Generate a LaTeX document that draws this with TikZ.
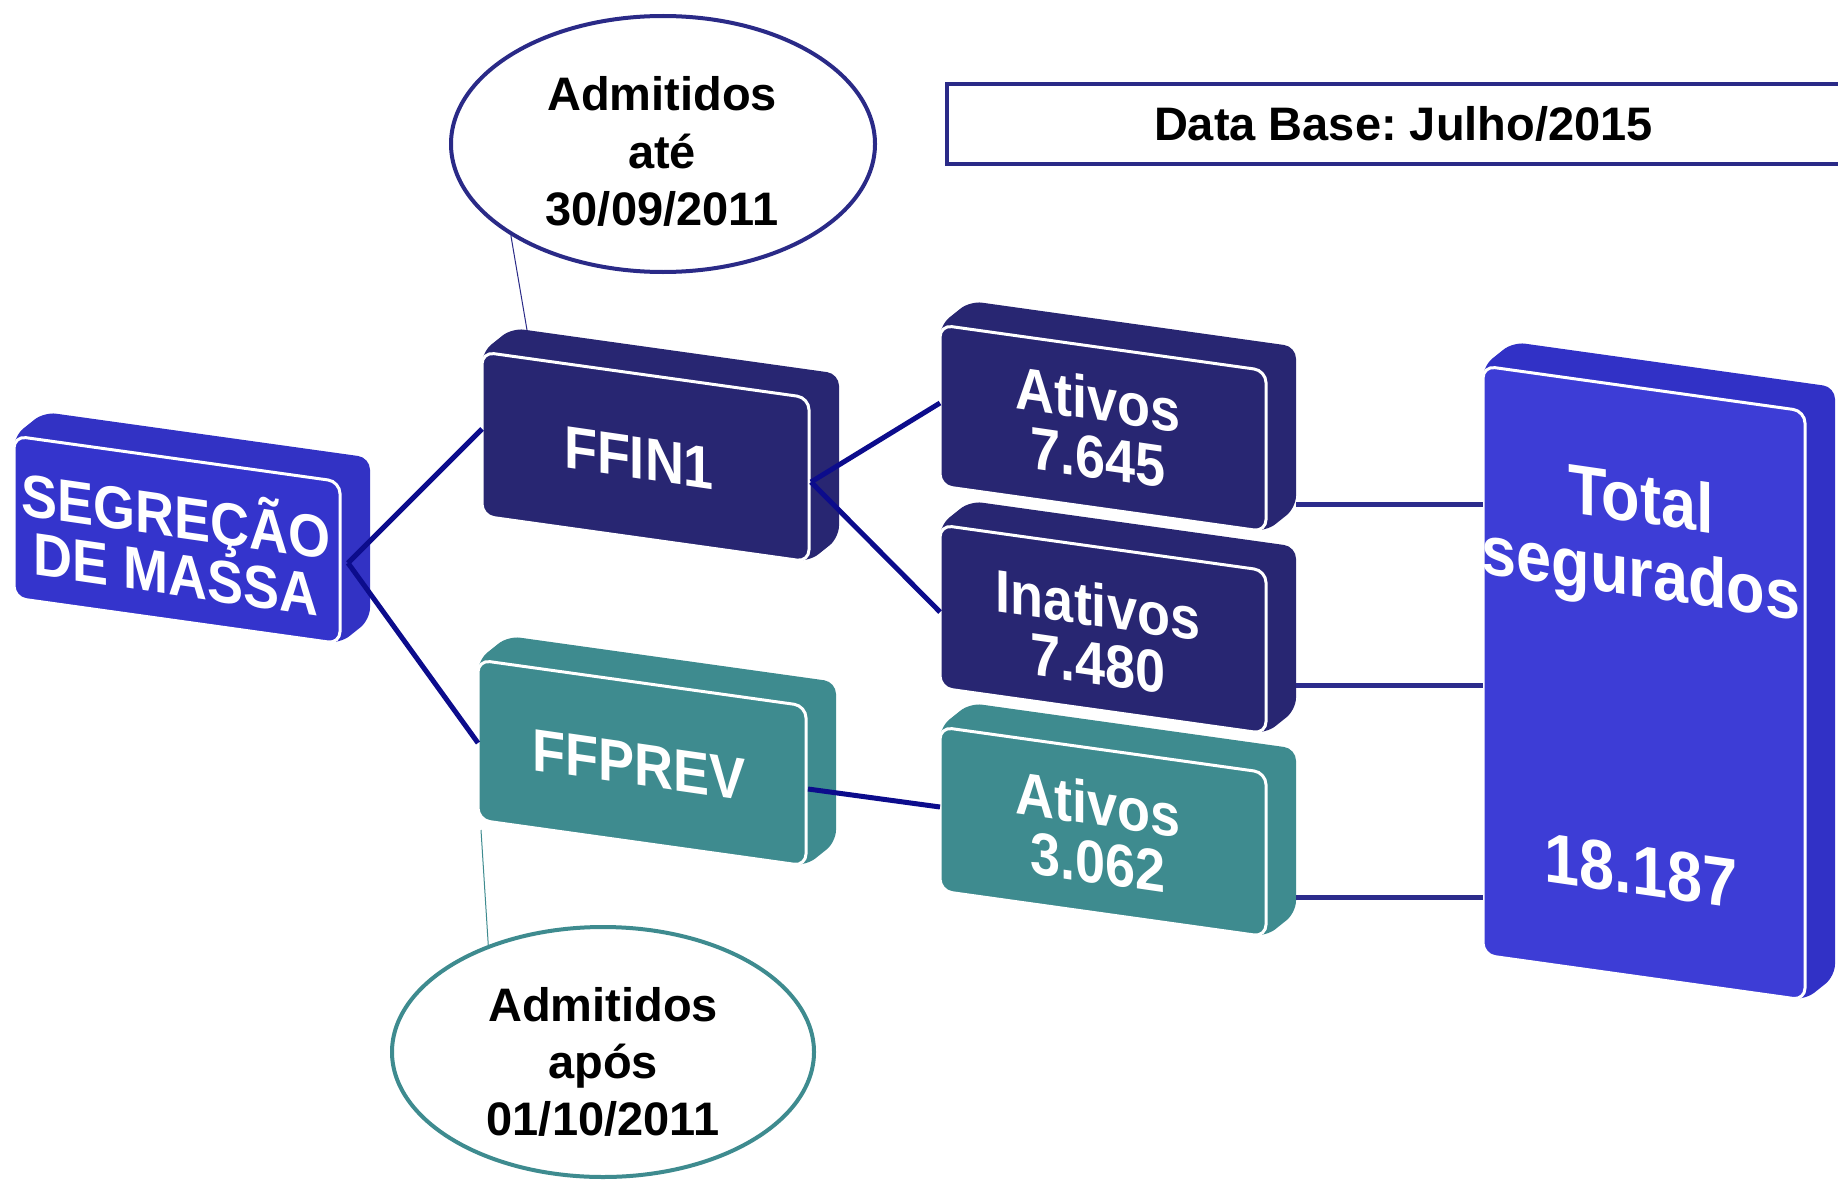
\documentclass[tikz,border=0pt]{standalone}
\usepackage{fontspec}
\setmainfont{Liberation Sans}
\usetikzlibrary{shapes.geometric}
\definecolor{navybox}{RGB}{40,38,114}
\definecolor{segfront}{RGB}{52,52,204}
\definecolor{segside}{RGB}{50,50,196}
\definecolor{totfront}{RGB}{61,61,214}
\definecolor{totside}{RGB}{49,49,198}
\definecolor{tealbox}{RGB}{62,139,143}
\definecolor{colconn}{RGB}{12,12,140}
\definecolor{colconntwo}{RGB}{44,44,140}
\definecolor{ringblue}{RGB}{42,42,135}

% #1 left x, #2 right x, #3 top-left y, #4 height, #5 front colour, #6 side colour
\newcommand{\extbox}[6]{%
  \pgfmathsetmacro{\skw}{0.14*(#2-#1)}%
  \fill[#6, rounded corners=12pt] (#1,#3) -- ({#1+30},{#3-24}) -- ({#2+30},{#3+\skw-24})
     -- ({#2+30},{#3+\skw+#4-24}) -- (#2,{#3+\skw+#4}) -- (#1,{#3+#4}) -- cycle;
  \filldraw[fill=#5, draw=white, line width=3pt, rounded corners=12pt] (#1,#3) -- (#2,{#3+\skw})
     -- (#2,{#3+\skw+#4}) -- (#1,{#3+#4}) -- cycle;
}

\begin{document}
\frenchspacing
\begin{tikzpicture}[x=1pt,y=-1pt,
  boxtxt/.style={text=white, font=\bfseries\fontsize{60}{60}\selectfont, inner sep=0pt,
                 text height=43pt, text depth=0pt, yslant=-0.145, xscale=0.9},
  tottxt/.style={boxtxt, font=\bfseries\fontsize{70}{70}\selectfont, text height=50pt},
  blacktxt/.style={text=black, font=\bfseries\fontsize{47}{47}\selectfont, inner sep=0pt,
                 text height=33.6pt, text depth=0pt},
  link/.style={draw=colconn, line width=5pt},
  linktot/.style={draw=colconntwo, line width=5pt},
  callout/.style={line width=1pt}]

\useasboundingbox (0,0) rectangle (1838,1180);
\clip (0,0) rectangle (1838,1180);
\fill[white] (0,0) rectangle (1838,1180);

% callout ellipses
\node[ellipse, draw=ringblue, line width=4pt, minimum width=424pt, minimum height=256pt, inner sep=0pt] (e1) at (663,144) {};
\node[blacktxt] (e1a) at (662,94) {Admitidos};
\node[blacktxt] (e1b) at (662,151.5) {até};
\node[blacktxt] (e1c) at (662,209) {30/09/2011};

\node[ellipse, draw=tealbox, line width=4pt, minimum width=422pt, minimum height=250pt, inner sep=0pt] (e2) at (603,1052) {};
\node[blacktxt] (e2a) at (603,1005) {Admitidos};
\node[blacktxt] (e2b) at (603,1062) {após};
\node[blacktxt] (e2c) at (603,1119) {01/10/2011};

\coordinate (ffintop) at (527,330);
\coordinate (ffprevbot) at (481,830);
\draw[callout, ringblue] (e1.211) -- (ffintop);
\draw[callout, tealbox] (ffprevbot) -- (e2.137);

% Data base box
\node[draw=ringblue, line width=4pt, minimum width=913pt, minimum height=80pt, inner sep=0pt,
      font=\bfseries\fontsize{47}{47}\selectfont, text height=33.6pt, text depth=0pt] (db) at (1403.5,124) {Data Base: Julho/2015};

% boxes
\extbox{14}{340}{436}{162}{segfront}{segside}
\extbox{482}{809}{352}{164}{navybox}{navybox}
\extbox{478}{806}{660}{160}{tealbox}{tealbox}
\extbox{940}{1266}{325}{161}{navybox}{navybox}
\extbox{940}{1266}{525}{163}{navybox}{navybox}
\extbox{940}{1266}{727}{164}{tealbox}{tealbox}
\extbox{1483}{1805}{366}{589}{totfront}{totside}

% box texts
\node[boxtxt] (seg1) at (176,516) {SEGREÇÃO};
\node[boxtxt] (seg2) at (176,574) {DE MASSA};
\node[boxtxt] (ffin) at (639,457) {FFIN1};
\node[boxtxt] (ffprev) at (639,764) {FFPREV};
\node[boxtxt] (at1a) at (1098,399) {Ativos};
\node[boxtxt] (at1b) at (1098,457) {7.645};
\node[boxtxt] (inat1) at (1098,605) {Inativos};
\node[boxtxt] (inat2) at (1098,663) {7.480};
\node[boxtxt] (at2a) at (1098,804) {Ativos};
\node[boxtxt] (at2b) at (1098,862) {3.062};
\node[tottxt] (tot1) at (1641,498) {Total};
\node[tottxt] (tot2) at (1641,572) {segurados};
\node[tottxt] (tot3) at (1641,870) {18.187};

% connectors
\coordinate (segR) at (348,563);
\coordinate (ffinL) at (482,429);
\coordinate (ffprevL) at (478,743);
\coordinate (ffinR) at (811,482);
\coordinate (ffprevR) at (808,789);
\coordinate (at1L) at (940,403);
\coordinate (inatL) at (940,612);
\coordinate (at2L) at (940,807);
\draw[link] (segR) -- (ffinL);
\draw[link] (segR) -- (ffprevL);
\draw[link] (ffinR) -- (at1L);
\draw[link] (ffinR) -- (inatL);
\draw[link] (ffprevR) -- (at2L);

\coordinate (at1R) at (1296,504);
\coordinate (inatR) at (1296,685);
\coordinate (at2R) at (1296,897);
\coordinate (totL1) at (1483,504);
\coordinate (totL2) at (1483,685);
\coordinate (totL3) at (1483,897);
\draw[linktot] (at1R) -- (totL1);
\draw[linktot] (inatR) -- (totL2);
\draw[linktot] (at2R) -- (totL3);
\end{tikzpicture}
\end{document}
